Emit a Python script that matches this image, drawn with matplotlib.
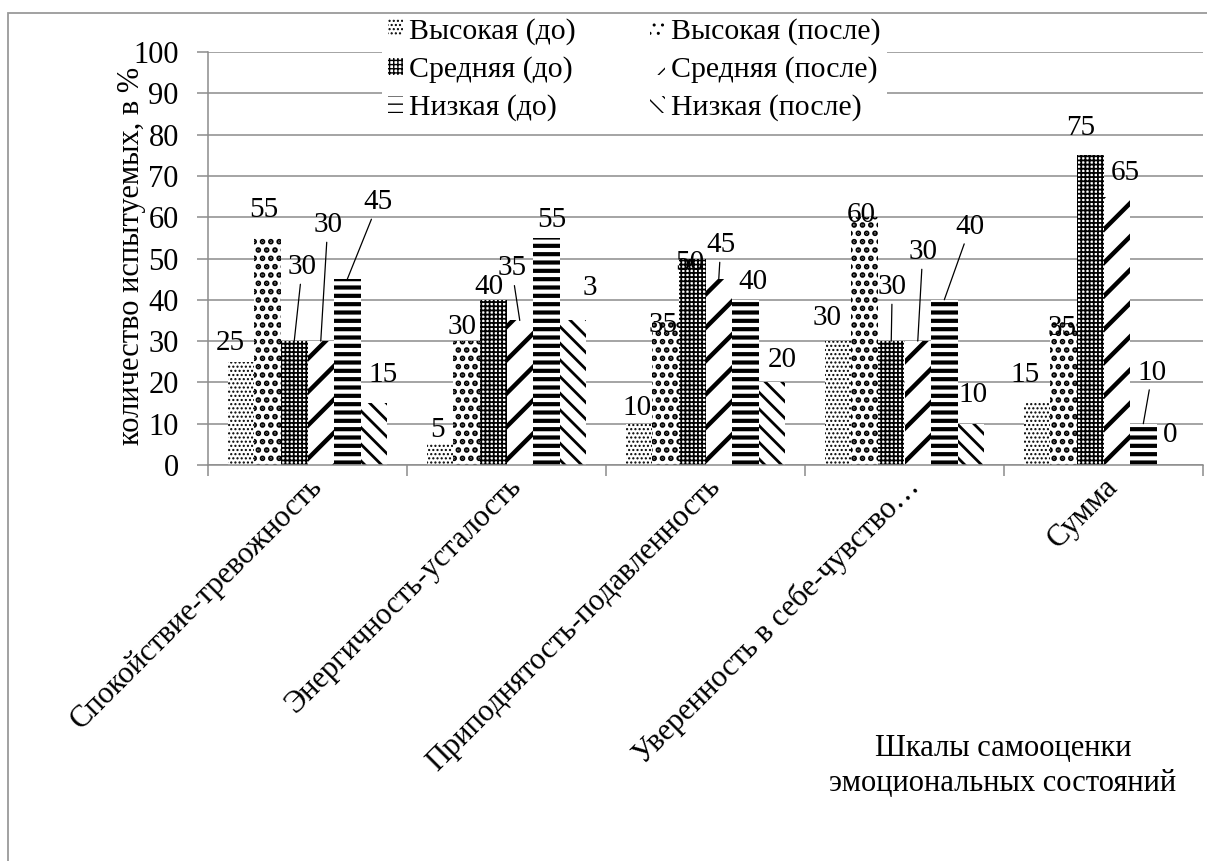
import numpy as np
import matplotlib
matplotlib.use("Agg")
import matplotlib.pyplot as plt
from matplotlib.patches import Rectangle
from matplotlib.text import Text

FONT = 'Liberation Serif'
plt.rcParams['font.family'] = 'serif'
plt.rcParams['font.serif'] = ['Liberation Serif', 'DejaVu Serif']

# categories (scales) and series
categories = ["Спокойствие-тревожность", "Энергичность-усталость",
              "Приподнятость-подавленность", "Уверенность в себе-чувство…", "Сумма"]
series = ["Высокая (до)", "Высокая (после)", "Средняя (до)",
          "Средняя (после)", "Низкая (до)", "Низкая (после)"]

high_before = [25, 5, 10, 30, 15]
high_after = [55, 30, 35, 60, 35]
mid_before = [30, 40, 50, 30, 75]
mid_after = [30, 35, 45, 30, 65]
low_before = [45, 55, 40, 40, 10]
low_after = [15, 35, 20, 10, 0]
values = [high_before, high_after, mid_before, mid_after, low_before, low_after]

# the label of one bar is cut short in the source chart
label_text = [[str(v) for v in row] for row in values]
label_text[5][1] = "3"

# hatch patterns and their line widths
hatches = ['....', '..', '++++', '/', '--', '\\\\']
hatch_lw = [1.0, 2.8, 1.3, 3.2, 3.0, 2.0]

# label offsets in pixels from the top of each bar, and whether a leader line is drawn
label_dx = [[-11, -3, -2, -11, -12],
            [-4, -5, -3, -3, -2],
            [8, -4, -2, 1, -10],
            [7, -8, 2, 5, 9],
            [31, 6, 8, 26, 9],
            [9, 17, 10, 2, 0]]
label_dy = [[19, 14, 16, 23, 28],
            [28, 14, -5, 2, -8],
            [74, 13, -4, 54, 27],
            [116, 52, 34, 89, 24],
            [77, 18, 18, 73, 51],
            [28, 32, 22, 29, 30]]
leader = [[False, False, False, False, False],
          [False, False, False, False, False],
          [True, False, False, True, False],
          [True, True, True, True, False],
          [True, False, False, True, True],
          [False, False, False, False, False]]


def with_hatch_lw(draw, lw):
    # hatch width is read from rcParams while the patch is drawn
    def wrapped(renderer):
        with plt.rc_context({'hatch.linewidth': lw}):
            draw(renderer)
    return wrapped


W, H = 1207, 861
fig = plt.figure(figsize=(W / 100, H / 100), dpi=100)
ax = fig.add_axes([208 / W, 396 / H, 995 / W, 413 / H])

x = np.arange(len(categories))
n = len(series)
w = 0.8 / n
grid_c = '#8c8c8c'

containers = []
for j in range(n):
    bars = ax.bar(x + (j - (n - 1) / 2) * w, values[j], w, color='white',
                  edgecolor='black', linewidth=0, hatch=hatches[j],
                  label=series[j], zorder=2)
    for p in bars:
        if hasattr(p, 'set_hatch_linewidth'):
            p.set_hatch_linewidth(hatch_lw[j])
        p.draw = with_hatch_lw(p.draw, hatch_lw[j])
    containers.append(bars)

    for i, p in enumerate(bars):
        xc = p.get_x() + p.get_width() / 2
        props = dict(arrowstyle='-', color='black', lw=0.9, shrinkA=1, shrinkB=0) if leader[j][i] else None
        ax.annotate(label_text[j][i], (xc, values[j][i]),
                    xytext=(label_dx[j][i], label_dy[j][i]), textcoords='offset pixels',
                    ha='center', va='center', fontsize=21, arrowprops=props, zorder=5)

ax.set_xlim(-0.5, len(categories) - 0.5)
ax.set_ylim(0, 100)
ax.set_yticks(np.arange(0, 101, 10))
ax.yaxis.grid(True, color=grid_c, lw=1.1, zorder=0)
ax.set_axisbelow(True)

ax.set_xticks(np.arange(-0.5, len(categories), 1.0))
ax.set_xticklabels([])
ax.set_xticks(x, minor=True)
ax.set_xticklabels(categories, minor=True, rotation=45, ha='right', va='top',
                   rotation_mode='anchor', fontsize=22)
ax.tick_params(axis='x', which='minor', length=0, pad=5)
ax.tick_params(axis='x', which='major', length=8, color=grid_c, width=1.1)
ax.tick_params(axis='y', length=8, color=grid_c, width=1.1, labelsize=22, pad=13)

for s in ['top', 'right']:
    ax.spines[s].set_visible(False)
for s in ['left', 'bottom']:
    ax.spines[s].set_color(grid_c)
    ax.spines[s].set_linewidth(1.1)

# legend in two columns: "до" on the left, "после" on the right
order = [0, 2, 4, 1, 3, 5]
leg = ax.legend([containers[k] for k in order], [series[k] for k in order],
                ncol=2, loc='upper left', bbox_to_anchor=(382 / W, 1 - 12 / H),
                bbox_transform=fig.transFigure, prop={'family': FONT, 'size': 21.5},
                frameon=True, facecolor='white', edgecolor='none', framealpha=1,
                fancybox=False, handlelength=0.5, handleheight=0.5, handletextpad=0.2,
                labelspacing=0.38, columnspacing=2.5, borderpad=0.2, borderaxespad=0)
leg.set_zorder(6)
for j, hp in zip(order, leg.legend_handles):
    hp.draw = with_hatch_lw(hp.draw, hatch_lw[j] * 0.6)

fig.text(131 / W, 1 - 256 / H, "количество испытуемых, в %", rotation=90,
         ha='center', va='center', fontsize=22)
fig.text(1003 / W, 1 - 766 / H, "Шкалы самооценки\nэмоциональных состояний",
         ha='center', va='center', fontsize=22, linespacing=1.3)

# outer chart frame
fig.add_artist(Rectangle((8 / W, -0.1), 1.2, 1 - 13 / H + 0.1, transform=fig.transFigure,
                         fill=False, edgecolor='#9a9a9a', lw=1.3))

for t in fig.findobj(Text):
    t.set_fontfamily(FONT)

fig.savefig("out.png", dpi=100)
